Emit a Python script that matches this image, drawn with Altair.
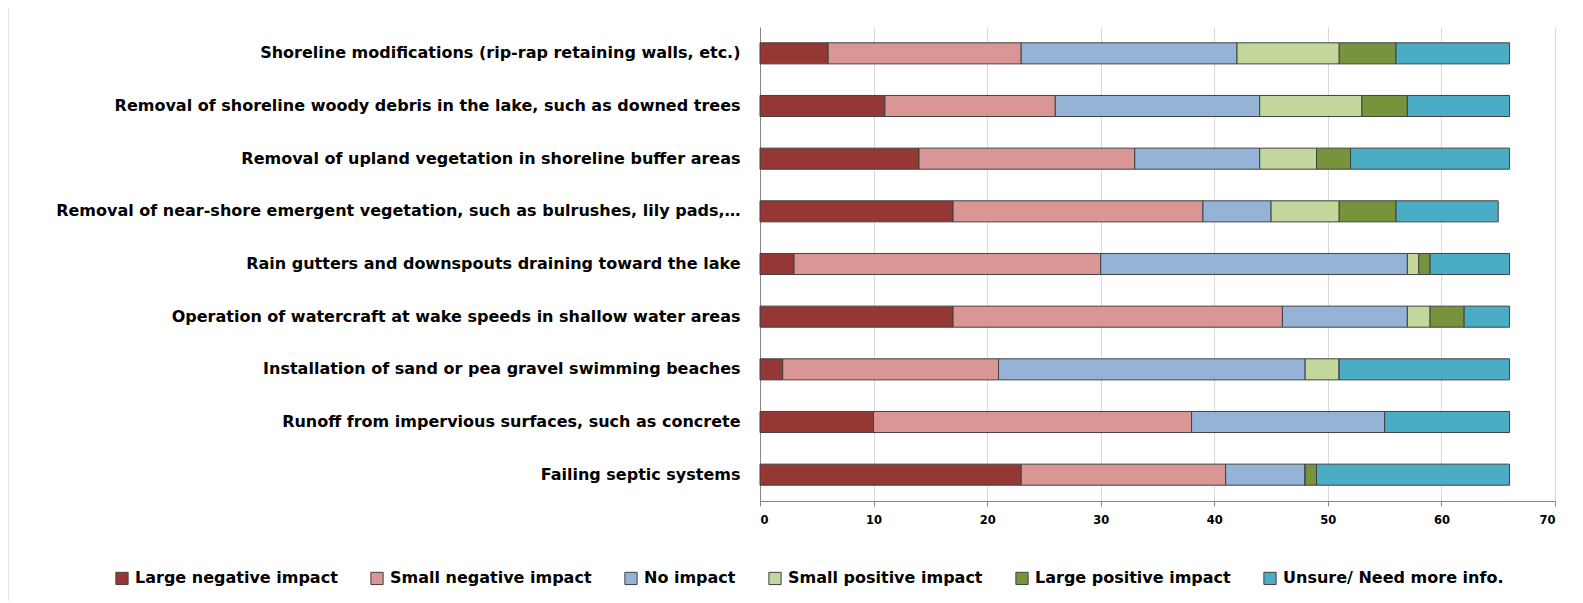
import altair as alt
import pandas as pd

categories = [
    "Shoreline modifications (rip-rap retaining walls, etc.)",
    "Removal of shoreline woody debris in the lake, such as downed trees",
    "Removal of upland vegetation in shoreline buffer areas",
    "Removal of near-shore emergent vegetation, such as bulrushes, lily pads,…",
    "Rain gutters and downspouts draining toward the lake",
    "Operation of watercraft at wake speeds in shallow water areas",
    "Installation of sand or pea gravel swimming beaches",
    "Runoff from impervious surfaces, such as concrete",
    "Failing septic systems",
]
series = [
    "Large negative impact",
    "Small negative impact",
    "No impact",
    "Small positive impact",
    "Large positive impact",
    "Unsure/ Need more info.",
]
large_negative = [6, 11, 14, 17, 3, 17, 2, 10, 23]
small_negative = [17, 15, 19, 22, 27, 29, 19, 28, 18]
no_impact = [19, 18, 11, 6, 27, 11, 27, 17, 7]
small_positive = [9, 9, 5, 6, 1, 2, 3, 0, 0]
large_positive = [5, 4, 3, 5, 1, 3, 0, 0, 1]
unsure = [10, 9, 14, 9, 7, 4, 15, 11, 17]
colors = ["#953735", "#D99694", "#95B3D7", "#C3D69B", "#77933C", "#4BACC6"]

values = [large_negative, small_negative, no_impact, small_positive, large_positive, unsure]
rows = []
for si, (s, vals) in enumerate(zip(series, values)):
    for c, v in zip(categories, vals):
        rows.append({"category": c, "series": s, "value": v, "order": si})
df = pd.DataFrame(rows)

font = "DejaVu Sans"

bars = alt.Chart(df).mark_bar(stroke="#404040", strokeWidth=1).encode(
    y=alt.Y("category:N", sort=categories, title=None,
            scale=alt.Scale(paddingInner=0.6, paddingOuter=0.3),
            axis=alt.Axis(labelFont=font, labelFontSize=16, labelFontWeight="bold",
                          labelColor="#000000", labelLimit=700, labelPadding=20,
                          ticks=False, domainColor="#868686", grid=False)),
    x=alt.X("value:Q", stack="zero", title=None,
            scale=alt.Scale(domain=[0, 70], nice=False),
            axis=alt.Axis(values=[0, 10, 20, 30, 40, 50, 60, 70], labelFont=font,
                          labelFontSize=11.5, labelFontWeight="bold", labelColor="#000000",
                          gridColor="#D9D9D9", domainColor="#868686", tickColor="#868686",
                          tickSize=5, labelPadding=8)),
    color=alt.Color("series:N", sort=series,
                    scale=alt.Scale(domain=series, range=colors),
                    legend=alt.Legend(title=None, orient="none", direction="horizontal",
                                      legendX=-646, legendY=543, columns=6,
                                      symbolType="square", symbolSize=150,
                                      symbolStrokeColor="#404040", symbolStrokeWidth=1,
                                      labelFont=font, labelFontSize=16, labelFontWeight="bold",
                                      labelColor="#000000", columnPadding=30,
                                      labelLimit=400, labelOffset=5)),
    order=alt.Order("order:Q"),
)

frame_df = pd.DataFrame({"k": [0]})
frame_top = alt.Chart(frame_df).mark_rule(color="#E6E6E6", strokeWidth=2).encode(
    x=alt.value(-752), x2=alt.value(830), y=alt.value(-21)
)
frame_left = alt.Chart(frame_df).mark_rule(color="#E6E6E6", strokeWidth=2).encode(
    x=alt.value(-752), y=alt.value(-21), y2=alt.value(600)
)

chart = alt.layer(bars, frame_top, frame_left).properties(
    width=795, height=474,
    autosize=alt.AutoSizeParams(type="none"),
    padding={"left": 752, "top": 19, "right": 20, "bottom": 100},
).configure_view(stroke=None)

chart.save("out.html", embed_options={"renderer": "svg", "actions": False})
